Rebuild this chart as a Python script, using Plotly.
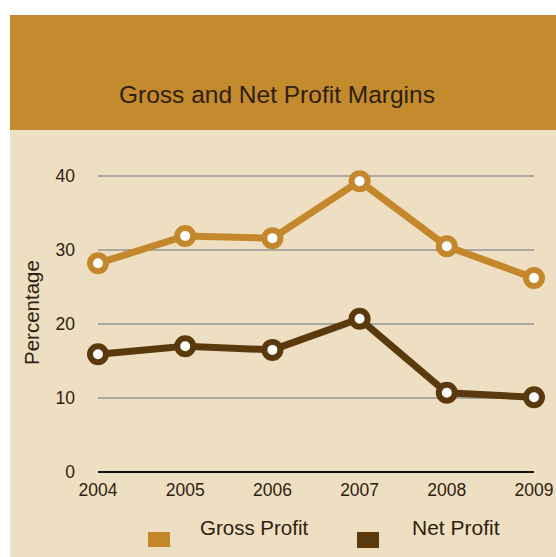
import plotly.graph_objects as go

years = [2004, 2005, 2006, 2007, 2008, 2009]
gross_profit = [28.2, 31.9, 31.6, 39.3, 30.5, 26.2]
net_profit = [15.9, 17.0, 16.5, 20.7, 10.7, 10.1]
y_ticks = [0, 10, 20, 30, 40]

GOLD = "#C4872C"
BROWN = "#5A3A0C"
HEADER = "#C48B2E"
PANEL = "#EEDFC2"
TEXT = "#2E2010"
FONT = "Liberation Sans, Arial, sans-serif"

Y_TOP = 40.4

# plot area in pixels: x 98..534, y 173..472
W, H = 556, 557
L, R, B = 98, 534, 472
T = B - 296 * Y_TOP / 40
pw, ph = R - L, B - T


def px(x):
    return (x - L) / pw


def py(y):
    return (B - y) / ph


fig = go.Figure()

for name, vals, col in [("Gross Profit", gross_profit, GOLD), ("Net Profit", net_profit, BROWN)]:
    fig.add_trace(go.Scatter(
        x=years, y=vals, name=name, mode="lines+markers",
        line=dict(color=col, width=7),
        marker=dict(size=16, color="white", line=dict(color=col, width=6)),
        cliponaxis=False, showlegend=False,
    ))

shapes = [
    # white strips above and left of the panel
    dict(type="rect", xref="paper", yref="paper", x0=px(-5), x1=px(565), y0=py(15), y1=py(-5),
         fillcolor="white", line=dict(width=0), layer="below"),
    dict(type="rect", xref="paper", yref="paper", x0=px(-5), x1=px(10), y0=py(565), y1=py(-5),
         fillcolor="white", line=dict(width=0), layer="below"),
    # title band
    dict(type="rect", xref="paper", yref="paper", x0=px(10), x1=px(565), y0=py(130), y1=py(15),
         fillcolor=HEADER, line=dict(width=0), layer="below"),
    # legend swatches
    dict(type="rect", xref="paper", yref="paper", x0=px(148), x1=px(170), y0=py(547), y1=py(532),
         fillcolor=GOLD, line=dict(width=0)),
    dict(type="rect", xref="paper", yref="paper", x0=px(357), x1=px(379), y0=py(548), y1=py(532),
         fillcolor=BROWN, line=dict(width=0)),
]

annotations = [
    dict(text="Gross and Net Profit Margins", xref="paper", yref="paper", x=px(277), y=py(95),
         showarrow=False, font=dict(family=FONT, size=24.5, color=TEXT), xanchor="center", yanchor="middle"),
    dict(text="Gross Profit", xref="paper", yref="paper", x=px(198), y=py(527),
         showarrow=False, font=dict(family=FONT, size=20.5, color=TEXT), xanchor="left", yanchor="middle"),
    dict(text="Net Profit", xref="paper", yref="paper", x=px(410), y=py(527),
         showarrow=False, font=dict(family=FONT, size=21, color=TEXT), xanchor="left", yanchor="middle"),
    dict(text="Percentage", xref="paper", yref="paper", x=px(32), y=py(313), textangle=-90,
         showarrow=False, font=dict(family=FONT, size=20.5, color=TEXT), xanchor="center", yanchor="middle"),
]

fig.update_layout(
    width=W, height=H,
    margin=dict(l=L, r=W - R, t=T, b=H - B, autoexpand=False),
    paper_bgcolor=PANEL, plot_bgcolor="rgba(0,0,0,0)",
    shapes=shapes, annotations=annotations,
    xaxis=dict(range=[2004, 2009], tickvals=years, ticktext=[str(y) for y in years],
               showgrid=False, zeroline=False, showline=False, ticks="", automargin=False,
               tickfont=dict(family=FONT, size=17.5, color=TEXT), ticklabelstandoff=5),
    yaxis=dict(range=[0, Y_TOP], tickvals=y_ticks, showgrid=True, gridcolor="#ABA7A2", gridwidth=2,
               zeroline=True, zerolinecolor="#111111", zerolinewidth=2, showline=False, ticks="",
               automargin=False,
               tickfont=dict(family=FONT, size=17.5, color=TEXT), ticklabelstandoff=22),
)

fig.write_html("out.html")
